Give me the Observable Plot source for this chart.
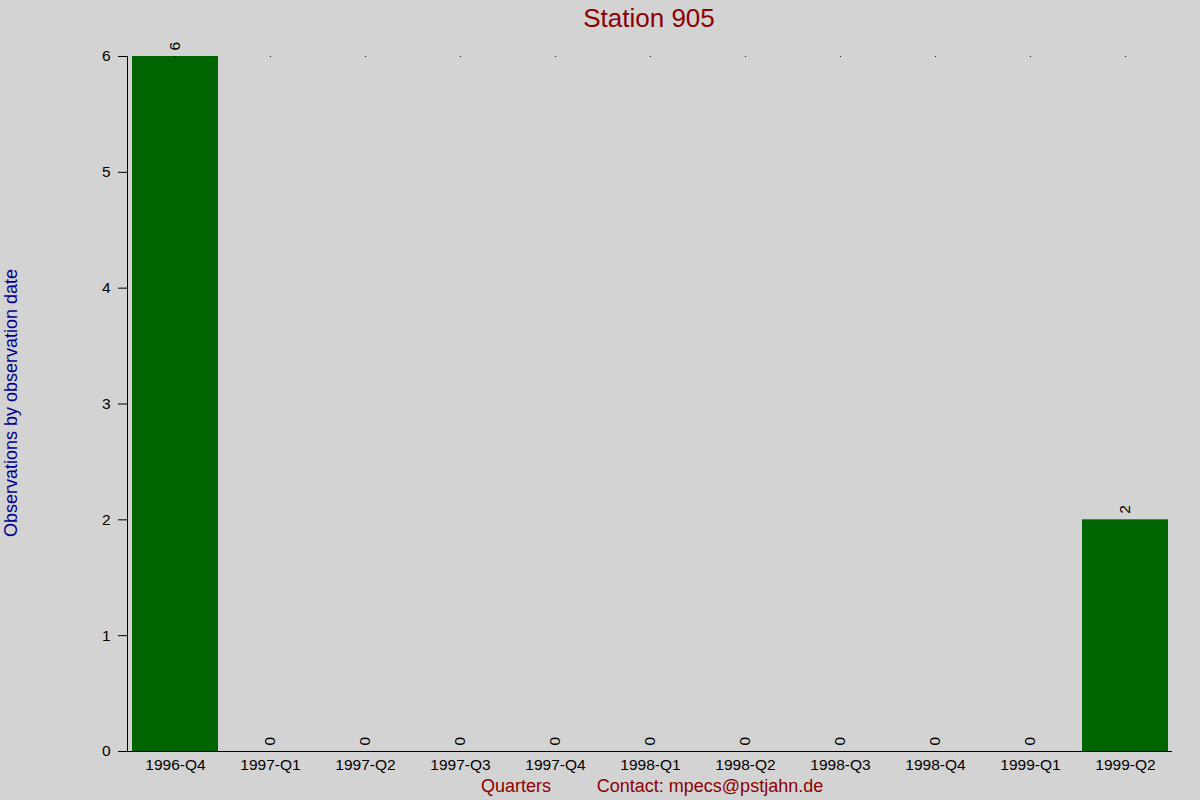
<!DOCTYPE html>
<html>
<head>
<meta charset="utf-8">
<script src="https://cdn.jsdelivr.net/npm/d3@7"></script>
<script src="https://cdn.jsdelivr.net/npm/@observablehq/plot@0.6"></script>
<style>
  html, body { margin: 0; padding: 0; background: #d3d3d3; }
  #chart { width: 1200px; height: 800px; }
</style>
</head>
<body>
<div id="chart"></div>
<script>
const quarters = ["1996-Q4","1997-Q1","1997-Q2","1997-Q3","1997-Q4","1998-Q1","1998-Q2","1998-Q3","1998-Q4","1999-Q1","1999-Q2"];
const counts = [6,0,0,0,0,0,0,0,0,0,2];
const yTicks = [0,1,2,3,4,5,6];
const titleText = "Station 905";
const yLabelText = "Observations by observation date";
const xLabelText = "Quarters";
const contactText = "Contact: mpecs@pstjahn.de";

const data = quarters.map((q, i) => ({quarter: q, count: counts[i]}));
const maxCount = d3.max(counts);

const plot = Plot.plot({
  width: 1200,
  height: 800,
  marginLeft: 127,
  marginRight: 28,
  marginTop: 56,
  marginBottom: 49,
  style: {background: "#d3d3d3", fontFamily: "Liberation Sans, Arial, sans-serif", fontSize: "15.5px", color: "#000"},
  x: {domain: quarters, paddingInner: 0.095, paddingOuter: 0.0475, label: null},
  y: {domain: [0, maxCount], label: null},
  marks: [
    Plot.barY(data, {x: "quarter", y: "count", fill: "#006400"}),
    Plot.dot(data, {x: "quarter", y: () => maxCount, r: 0.6, fill: "#000", stroke: null}),
    Plot.text(data, {x: "quarter", y: "count", text: d => String(d.count), rotate: -90, textAnchor: "start", dy: -6, fill: "#000", fontSize: 15.5}),
    Plot.axisY({ticks: yTicks, tickSize: 9, tickPadding: 8, tickFormat: d3.format("d"), label: null}),
    Plot.axisX({tickSize: 0, tickPadding: 7, label: null}),
    Plot.frame({anchor: "left", stroke: "#000"}),
    Plot.ruleY([0], {stroke: "#000", insetLeft: -9})
  ]
});

document.getElementById("chart").appendChild(plot);

const svg = d3.select(plot);
svg.selectAll('g[aria-label$="tick label"]').attr("font-size", 15.5).selectAll("text").attr("font-size", 15.5);
const font = "Liberation Sans, Arial, sans-serif";
svg.append("text").attr("x", 649).attr("y", 27).attr("text-anchor", "middle")
  .attr("font-family", font).attr("font-size", 26).attr("fill", "#8b0000").text(titleText);
svg.append("text").attr("transform", "translate(17,403) rotate(-90)").attr("text-anchor", "middle")
  .attr("font-family", font).attr("font-size", 18).attr("fill", "#00008b").text(yLabelText);
svg.append("text").attr("x", 516).attr("y", 792).attr("text-anchor", "middle")
  .attr("font-family", font).attr("font-size", 18).attr("fill", "#8b0000").text(xLabelText);
svg.append("text").attr("x", 710).attr("y", 792).attr("text-anchor", "middle")
  .attr("font-family", font).attr("font-size", 18).attr("fill", "#8b0000").text(contactText);
</script>
</body>
</html>
